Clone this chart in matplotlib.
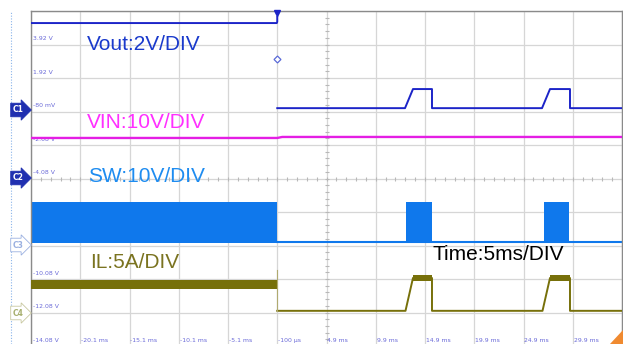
import numpy as np
import matplotlib.pyplot as plt
from matplotlib.patches import Polygon

# Scope capture: time axis in ms, vertical axis in screen divisions (0 = bottom, 10 = top)
time_labels = ["-20.1 ms", "-15.1 ms", "-10.1 ms", "-5.1 ms", "-100 µs", "4.9 ms",
               "9.9 ms", "14.9 ms", "19.9 ms", "24.9 ms", "29.9 ms"]
time_ticks = [-20.1, -15.1, -10.1, -5.1, -0.1, 4.9, 9.9, 14.9, 19.9, 24.9, 29.9]
volt_labels = ["3.92 V", "1.92 V", "-80 mV", "-2.08 V", "-4.08 V", "-6.08 V",
               "-8.08 V", "-10.08 V", "-12.08 V", "-14.08 V"]
volt_divs = [9, 8, 7, 6, 5, 4, 3, 2, 1, 0]

# Vout (C1): before and after the trigger
vout_pre_t = [-25.1, -0.15, -0.1, -0.1]
vout_pre_v = [9.64, 9.64, 9.68, 9.82]
vout_t = [-0.1, 12.87, 13.68, 15.61, 15.61, 26.78, 27.59, 29.62, 29.62, 34.9]
vout_v = [7.10, 7.10, 7.67, 7.67, 7.10, 7.10, 7.67, 7.67, 7.10, 7.10]

# VIN (C2)
vin_t = [-25.1, -0.1, 0.4, 34.9]
vin_v = [6.21, 6.21, 6.24, 6.24]

# SW (C3): switching band before the trigger, then bursts
sw_band = (-25.1, -0.1)
sw_low, sw_high = 3.07, 4.30
sw_idle = 3.10
sw_bursts = [(12.97, 15.61), (26.98, 29.52)]

# IL (C4)
il_band = (-25.1, -0.1)
il_band_low, il_band_high = 1.70, 1.97
il_t = [-0.1, 12.92, 13.68, 15.61, 15.61, 26.83, 27.59, 29.62, 29.62, 34.9]
il_v = [1.05, 1.05, 2.03, 2.03, 1.05, 1.05, 2.03, 2.03, 1.05, 1.05]
il_step_t = [-0.1, -0.1]
il_step_v = [2.27, 1.05]
il_tops = [(13.68, 15.61), (27.59, 29.62)]
il_top_low, il_top_high = 1.94, 2.12

fig = plt.figure(figsize=(6.23, 3.44), dpi=100)
ax = fig.add_axes([31 / 623, -2 / 344, 591 / 623, 335 / 344])
ax.set_xlim(-25.1, 34.9)
ax.set_ylim(0, 10)
ax.set_xticks([])
ax.set_yticks([])
for s in ax.spines.values():
    s.set_color("#8a8a8a")
    s.set_linewidth(1.0)

# graticule
for xv in np.arange(-25.1, 35, 5):
    ax.axvline(xv, color="#d6d6d6", lw=0.9, zorder=0)
for yv in range(11):
    ax.axhline(yv, color="#d6d6d6", lw=0.9, zorder=0)
# minor ticks on the centre lines
minor_t = np.arange(-25.1, 34.95, 1.0)
ax.plot(minor_t, np.full(len(minor_t), 5), ls="none", marker="|", ms=3,
        color="#b8b8b8", mew=0.8, zorder=0)
minor_d = np.arange(0, 10.01, 0.2)
ax.plot(np.full(len(minor_d), 4.9), minor_d, ls="none", marker="_", ms=3,
        color="#b8b8b8", mew=0.8, zorder=0)

# scale labels
for lab, d in zip(volt_labels, volt_divs):
    ax.text(-24.9, d + 0.17, lab, fontsize=4.4, color="#6a6ad8", va="center",
            ha="left", zorder=1)
for lab, t in zip(time_labels, time_ticks):
    ax.text(t + 0.1, 0.17, lab, fontsize=4.4, color="#6a6ad8", va="center",
            ha="left", zorder=1)

# traces
ax.plot(vout_pre_t, vout_pre_v, color="#1c24c8", lw=1.4, zorder=3)
ax.plot(vout_t, vout_v, color="#1c24c8", lw=1.4, zorder=3)
ax.plot(vin_t, vin_v, color="#e41ee4", lw=1.7, zorder=3)

ax.fill_between(sw_band, sw_low, sw_high, color="#0f78ec", lw=0, zorder=2)
ax.plot([-0.1, 34.9], [sw_idle, sw_idle], color="#0f78ec", lw=1.5, zorder=2)
for a, b in sw_bursts:
    ax.fill_between([a, b], sw_low, sw_high, color="#0f78ec", lw=0, zorder=2)

ax.fill_between(il_band, il_band_low, il_band_high, color="#77700a", lw=0, zorder=3)
ax.plot(il_t, il_v, color="#77700a", lw=1.4, zorder=3)
ax.plot(il_step_t, il_step_v, color="#b0aa70", lw=0.8, zorder=3)
for a, b in il_tops:
    ax.fill_between([a, b], il_top_low, il_top_high, color="#77700a", lw=0, zorder=3)

# trigger markers
ax.plot(-0.1, 9.93, marker="v", ms=4, color="#1c24c8", clip_on=False, zorder=4)
ax.plot(-0.1, 8.57, marker="D", ms=3.5, mfc="white", mec="#5a6ad8", mew=0.9, zorder=4)

# channel captions
font = ["Liberation Sans", "DejaVu Sans"]
ax.text(-19.41, 9.01, "Vout:2V/DIV", fontsize=15, color="#1a3acc", family=font,
        va="center", ha="left", zorder=5)
ax.text(-19.41, 6.66, "VIN:10V/DIV", fontsize=15, color="#ff30ff", family=font,
        va="center", ha="left", zorder=5)
ax.text(-19.31, 5.07, "SW:10V/DIV", fontsize=15, color="#1e8cf0", family=font,
        va="center", ha="left", zorder=5)
ax.text(-19.1, 2.48, "IL:5A/DIV", fontsize=15, color="#7a7320", family=font,
        va="center", ha="left", zorder=5)
ax.text(15.71, 2.72, "Time:5ms/DIV", fontsize=15, color="black", family=font,
        va="center", ha="left", zorder=5)

# left margin: dotted rail and channel tags
fig.add_artist(plt.Line2D([11 / 623, 11 / 623], [0, 1 - 11 / 344], ls=(0, (1, 1.5)),
                          color="#8ab4ea", lw=0.8))
tags = [("C1", 110, "#2030b0", "white", "#2030b0"),
        ("C2", 178, "#2030b0", "white", "#2030b0"),
        ("C3", 245, "white", "#9ab0e0", "#9ab0e0"),
        ("C4", 313, "white", "#a8b070", "#c8c8a0")]
for lab, ypx, fc, tc, ec in tags:
    fig.text(13 / 623, 1 - ypx / 344, lab, fontsize=5.5, color=tc, va="center",
             ha="left", fontweight="bold",
             bbox=dict(boxstyle="rarrow,pad=0.3", fc=fc, ec=ec, lw=0.6))

# corner marker
fig.add_artist(Polygon([[610 / 623, 0], [623 / 623, 14 / 344], [623 / 623, 0]],
                       closed=True, fc="#f08a30", ec="none", transform=fig.transFigure))

fig.savefig("out.png", dpi=100)
